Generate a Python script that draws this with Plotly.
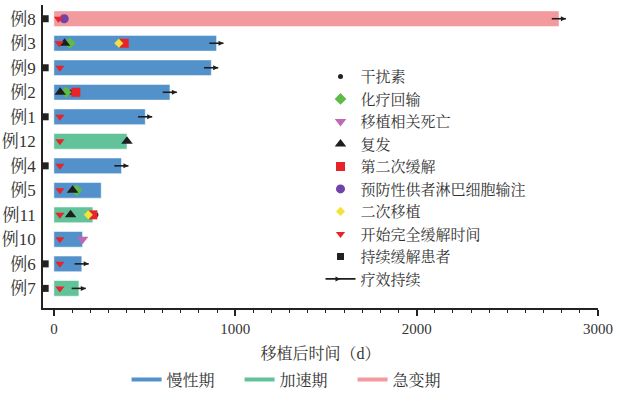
import plotly.graph_objects as go

# ---------------- data ----------------
cases = ["例8", "例3", "例9", "例2", "例1", "例12", "例4", "例5", "例11", "例10", "例6", "例7"]
duration = [2785, 897, 868, 640, 504, 403, 373, 261, 215, 158, 154, 138]
phase = ["急变期", "慢性期", "慢性期", "慢性期", "慢性期", "加速期",
         "慢性期", "慢性期", "加速期", "慢性期", "慢性期", "加速期"]
ongoing = ["例8", "例3", "例9", "例2", "例1", "例4", "例6", "例7"]
persistent = ["例8", "例9", "例1", "例4", "例6", "例7"]

interferon_cases = ["例2", "例11"]
interferon_x = [92, 232]
chemo_cases = ["例3", "例2", "例5"]
chemo_x = [88, 66, 125]
trm_cases = ["例10"]
trm_x = [158]
relapse_cases = ["例3", "例2", "例12", "例5", "例11"]
relapse_x = [59, 35, 403, 103, 92]
cr2_cases = ["例3", "例2", "例11"]
cr2_x = [388, 121, 215]
dli_cases = ["例8"]
dli_x = [57]
sct2_cases = ["例3", "例11"]
sct2_x = [358, 190]
cr_cases = ["例8", "例3", "例9", "例1", "例12", "例4", "例5", "例11", "例10", "例6", "例7"]
cr_x = [25, 29, 33, 33, 33, 33, 33, 33, 33, 33, 33]

phase_names = ["慢性期", "加速期", "急变期"]
phase_colors = {"慢性期": "#5391CB", "加速期": "#62C29A", "急变期": "#F29A9E"}

x_ticks = [0, 1000, 2000, 3000]

# ---------------- figure ----------------
FONT = "Liberation Serif, Noto Serif CJK SC, Noto Sans CJK SC"
SQUARE_X = -48
ARROW_BACK, ARROW_FWD = 40, 38

fig = go.Figure()

for ph in phase_names:
    ys = [c for c, p in zip(cases, phase) if p == ph]
    xs = [d for d, p in zip(duration, phase) if p == ph]
    fig.add_trace(go.Bar(
        x=xs, y=ys, orientation="h", base=0, width=0.64,
        marker=dict(color=phase_colors[ph], line=dict(color="rgba(255,255,255,0.5)", width=1)),
        showlegend=False, hoverinfo="x+y"))

dur = dict(zip(cases, duration))


def pts(name, cs, xs, symbol, color, size, line=None):
    fig.add_trace(go.Scatter(
        x=xs, y=cs, mode="markers", name=name, legend="legend",
        marker=dict(symbol=symbol, color=color, size=size,
                    line=line or dict(width=0))))


pts("干扰素", interferon_cases, interferon_x, "circle", "#222222", 5)
pts("化疗回输", chemo_cases, chemo_x, "diamond", "#5DBB46", 9)
pts("移植相关死亡", trm_cases, trm_x, "triangle-down", "#C068B4", 10)
pts("复发", relapse_cases, relapse_x, "triangle-up", "#1E1E1E", 10)
pts("第二次缓解", cr2_cases, cr2_x, "square", "#E8232A", 9)
pts("预防性供者淋巴细胞输注", dli_cases, dli_x, "circle", "#7043A8", 9)
pts("二次移植", sct2_cases, sct2_x, "diamond", "#F2E33C", 7)
pts("开始完全缓解时间", cr_cases, cr_x, "triangle-down", "#E8232A", 8)
pts("持续缓解患者", persistent, [SQUARE_X] * len(persistent), "square", "#222222", 7)

# arrow shafts
sx, sy = [], []
for c in ongoing:
    sx += [dur[c] - ARROW_BACK, dur[c] + ARROW_FWD, None]
    sy += [c, c, None]
fig.add_trace(go.Scatter(x=sx, y=sy, mode="lines", line=dict(color="#1E1E1E", width=1.6),
                         showlegend=False, hoverinfo="skip"))
# arrow heads (with legend entry)
hx, hy = [], []
for c in ongoing:
    hx += [dur[c] + ARROW_FWD, None]
    hy += [c, None]
fig.add_trace(go.Scatter(x=hx, y=hy, mode="lines+markers", name="疗效持续", legend="legend",
                         line=dict(color="#1E1E1E", width=1.6),
                         marker=dict(symbol="arrow-right", size=5, color="#1E1E1E")))

# phase legend entries
for ph in phase_names:
    fig.add_trace(go.Scatter(x=[None], y=[None], mode="lines", name=ph, legend="legend2",
                             line=dict(color=phase_colors[ph], width=4)))

fig.update_layout(
    width=620, height=401,
    margin=dict(l=43, r=22, t=5, b=87),
    paper_bgcolor="white", plot_bgcolor="white",
    barmode="overlay",
    font=dict(family=FONT, size=15, color="#333333"),
    legend=dict(x=0.5, y=0.818, xanchor="left", yanchor="top",
                font=dict(family=FONT, size=15, color="#333333"),
                bgcolor="rgba(0,0,0,0)", tracegroupgap=0),
    legend2=dict(orientation="h", x=0.456, y=-0.236, xanchor="center", yanchor="middle",
                 entrywidth=68,
                 font=dict(family=FONT, size=16, color="#333333"),
                 bgcolor="rgba(0,0,0,0)"),
    xaxis=dict(range=[-60, 3000], tickvals=x_ticks, ticks="outside", ticklen=6, tickwidth=1.5,
               tickcolor="#222222", showline=True, linecolor="#222222", linewidth=1.5,
               showgrid=False, zeroline=False, automargin=False,
               tickfont=dict(family=FONT, size=15, color="#333333"),
               minor=dict(dtick=100, tick0=0, ticks="outside", ticklen=3.5, tickwidth=1.2,
                          tickcolor="#222222", showgrid=False),
               title=dict(text="移植后时间（d）", font=dict(family=FONT, size=16, color="#333333"),
                          standoff=12)),
    yaxis=dict(type="category", categoryorder="array", categoryarray=cases[::-1],
               range=[-0.8, 11.56], showline=True, linecolor="#222222", linewidth=1.5,
               showgrid=False, zeroline=False, ticks="", ticklabelstandoff=2, automargin=False,
               tickfont=dict(family=FONT, size=17, color="#333333")),
)

fig.write_html("out.html")
